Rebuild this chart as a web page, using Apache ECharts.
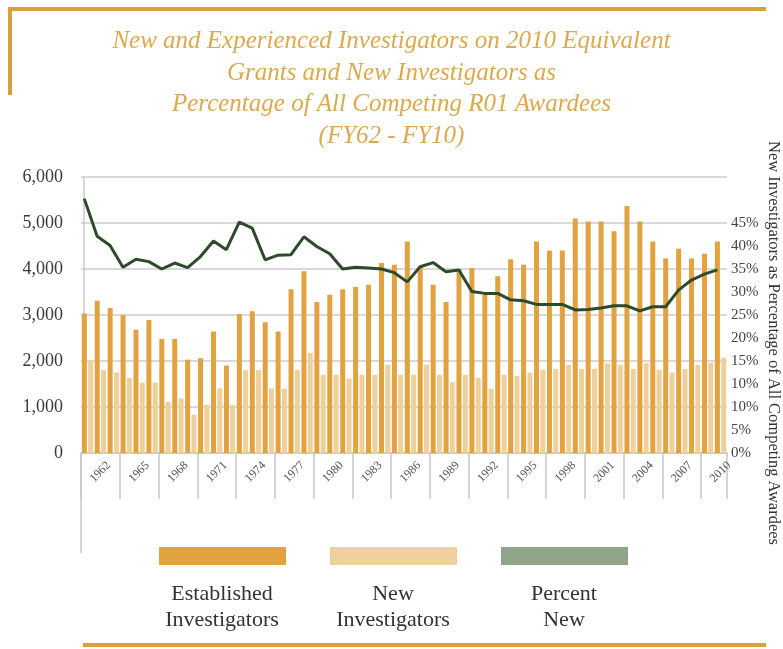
<!DOCTYPE html>
<html>
<head>
<meta charset="utf-8">
<script src="https://cdn.jsdelivr.net/npm/echarts@6/dist/echarts.min.js"></script>
<style>
html,body{margin:0;padding:0;background:#fff;}
#c{width:783px;height:649px;}
</style>
</head>
<body>
<div id="c"></div>
<script>
const years = ['1961','1962','1963','1964','1965','1966','1967','1968','1969','1970',
  '1971','1972','1973','1974','1975','1976','1977','1978','1979','1980',
  '1981','1982','1983','1984','1985','1986','1987','1988','1989','1990',
  '1991','1992','1993','1994','1995','1996','1997','1998','1999','2000',
  '2001','2002','2003','2004','2005','2006','2007','2008','2009','2010'];

const established = [3030,3310,3150,3000,2680,2890,2480,2480,2030,2060,
  2640,1900,3020,3080,2840,2640,3560,3950,3280,3440,
  3560,3610,3660,4130,4090,4600,4060,3660,3280,4000,
  4020,3440,3840,4210,4090,4600,4400,4400,5100,5030,
  5030,4820,5370,5030,4600,4230,4440,4230,4330,4600];

const newInvestigators = [2020,1800,1750,1630,1530,1530,1110,1190,830,1045,
  1406,1045,1800,1800,1400,1400,1810,2170,1700,1700,
  1620,1700,1700,1920,1700,1700,1920,1700,1540,1700,
  1630,1400,1700,1670,1750,1810,1825,1915,1825,1830,
  1950,1915,1825,1950,1808,1745,1825,1915,1960,2070];

// Percent new, in units of the right-hand axis scale
const percentNew = [55.3,47.1,45.1,40.4,42.1,41.6,40.0,41.3,40.3,42.7,
  46.1,44.2,50.2,48.9,42.0,43.0,43.1,47.0,44.9,43.3,
  40.0,40.4,40.2,40.0,39.2,37.2,40.5,41.4,39.4,39.8,
  35.1,34.7,34.7,33.3,33.1,32.3,32.3,32.3,31.1,31.2,
  31.5,32.0,32.0,30.9,31.8,31.8,35.4,37.6,38.9,39.8];

const rightTickLabels = ['0%','5%','10%','10%','15%','20%','25%','30%','35%','40%','45%','',''];

const titleText = 'New and Experienced Investigators on 2010 Equivalent\nGrants and New Investigators as\nPercentage of All Competing R01 Awardees\n(FY62 - FY10)';
const legendNames = ['Established\nInvestigators','New\nInvestigators','Percent\nNew'];
const rightAxisTitle = 'New Investigators as Percentage of All Competing Awardees';

const SERIF = '"Liberation Serif", "DejaVu Serif", serif';
const GOLD = '#D9A03F';
const C_EST = '#E1A23F';
const C_NEW = '#EFD09C';
const C_PCT_SW = '#8FA58A';
const C_LINE = '#2D4A2A';

const chart = echarts.init(document.getElementById('c'), null, {renderer:'canvas'});

const option = {
  animation: false,
  backgroundColor: '#ffffff',
  title: {
    text: titleText,
    left: 'center',
    top: 21,
    textStyle: {
      fontFamily: SERIF, fontStyle: 'italic', fontWeight: 'normal',
      fontSize: 25, lineHeight: 31.5, color: '#DCA94E'
    }
  },
  grid: { left: 81, right: 56, top: 177, bottom: 196, containLabel: false },
  xAxis: [
    {
      type: 'category', data: years, boundaryGap: true,
      axisLine: { show: true, lineStyle: { color: '#c8c8c8', width: 1.5 } },
      axisTick: { show: true, interval: function (i) { return i % 3 === 0; }, length: 46,
        lineStyle: { color: '#c8c8c8', width: 1.5 } },
      axisLabel: { interval: function (i) { return i % 3 === 1; }, rotate: 45, margin: 19,
        align: 'center', verticalAlign: 'middle',
        fontFamily: SERIF, fontSize: 12, color: '#555' },
      splitLine: { show: false }
    },
    { type: 'value', min: -0.25, max: 49.75, show: false }
  ],
  yAxis: [
    {
      type: 'value', min: 0, max: 6000, interval: 1000,
      axisLine: { show: true, lineStyle: { color: '#c8c8c8', width: 1.5 } },
      axisTick: { show: false },
      axisLabel: { margin: 18, fontFamily: SERIF, fontSize: 18, color: '#3a3a3a',
        formatter: function (v) { return v >= 1000 ? Math.floor(v/1000) + ',' + String(v%1000).padStart(3,'0') : String(v); } },
      splitLine: { show: true, lineStyle: { color: '#cccccc', width: 1.5 } }
    },
    {
      type: 'value', position: 'right', min: 0, max: 60, interval: 5,
      axisLine: { show: false }, axisTick: { show: false },
      axisLabel: { margin: 4, fontFamily: SERIF, fontSize: 15, color: '#444',
        formatter: function (v) { return rightTickLabels[Math.round(v/5)] || ''; } },
      splitLine: { show: false }
    }
  ],
  series: [
    { name: 'Established Investigators', type: 'bar', xAxisIndex: 0, yAxisIndex: 0,
      data: established, barWidth: 5, barGap: '26%', itemStyle: { color: C_EST } },
    { name: 'New Investigators', type: 'bar', xAxisIndex: 0, yAxisIndex: 0,
      data: newInvestigators, barWidth: 5, itemStyle: { color: C_NEW } },
    { name: 'Percent New', type: 'line', xAxisIndex: 1, yAxisIndex: 1,
      data: percentNew.map(function (v, i) { return [i, v]; }),
      symbol: 'none', lineStyle: { color: C_LINE, width: 3 }, z: 5 }
  ],
  graphic: [
    { type: 'rect', shape: { x: 8, y: 7, width: 758, height: 4 }, style: { fill: GOLD } },
    { type: 'rect', shape: { x: 8, y: 7, width: 4, height: 88 }, style: { fill: GOLD } },
    { type: 'rect', shape: { x: 83, y: 643, width: 683, height: 4 }, style: { fill: GOLD } },
    { type: 'line', shape: { x1: 81, y1: 453, x2: 81, y2: 553 }, style: { stroke: '#c8c8c8', lineWidth: 1.5 } },
    { type: 'rect', shape: { x: 159, y: 547, width: 127, height: 18 }, style: { fill: C_EST } },
    { type: 'rect', shape: { x: 330, y: 547, width: 127, height: 18 }, style: { fill: C_NEW } },
    { type: 'rect', shape: { x: 501, y: 547, width: 127, height: 18 }, style: { fill: C_PCT_SW } },
    { type: 'text', x: 222, y: 607, style: { text: legendNames[0], font: '22px ' + SERIF, fill: '#333',
        align: 'center', verticalAlign: 'middle', textAlign: 'center', textVerticalAlign: 'middle', lineHeight: 26 } },
    { type: 'text', x: 393, y: 607, style: { text: legendNames[1], font: '22px ' + SERIF, fill: '#333',
        align: 'center', verticalAlign: 'middle', textAlign: 'center', textVerticalAlign: 'middle', lineHeight: 26 } },
    { type: 'text', x: 564, y: 607, style: { text: legendNames[2], font: '22px ' + SERIF, fill: '#333',
        align: 'center', verticalAlign: 'middle', textAlign: 'center', textVerticalAlign: 'middle', lineHeight: 26 } },
    { type: 'text', x: 773, y: 343, rotation: -Math.PI / 2,
      style: { text: rightAxisTitle, font: '16.5px ' + SERIF, fill: '#333',
        align: 'center', verticalAlign: 'middle', textAlign: 'center', textVerticalAlign: 'middle' } }
  ]
};
chart.setOption(option);
</script>
</body>
</html>
